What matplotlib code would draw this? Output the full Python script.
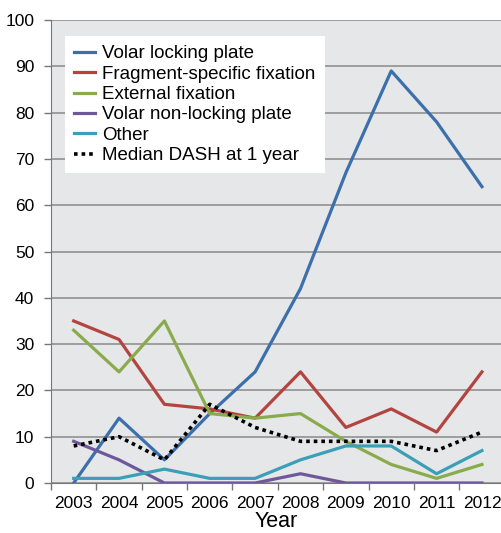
import numpy as np
import matplotlib.pyplot as plt

plt.rcParams['font.family'] = ['Liberation Sans', 'DejaVu Sans']

years = ['2003', '2004', '2005', '2006', '2007', '2008', '2009', '2010', '2011', '2012']
volar_locking = [0, 14, 5, 15, 24, 42, 67, 89, 78, 64]
fragment_specific = [35, 31, 17, 16, 14, 24, 12, 16, 11, 24]
external_fix = [33, 24, 35, 15, 14, 15, 9, 4, 1, 4]
volar_nonlocking = [9, 5, 0, 0, 0, 2, 0, 0, 0, 0]
other = [1, 1, 3, 1, 1, 5, 8, 8, 2, 7]
median_dash = [8, 10, 5, 17, 12, 9, 9, 9, 7, 11]

W, H = 501, 533
fig = plt.figure(figsize=(W/100, H/100), dpi=100)
ax = fig.add_axes([51/W, 50/H, 1 - 51/W, 463/H])
ax.set_facecolor('#e6e7e8')

x = np.arange(len(years))
lw = 2.3
ax.plot(x, volar_locking, color='#3c6fab', lw=lw, label='Volar locking plate')
ax.plot(x, fragment_specific, color='#b3443f', lw=lw, label='Fragment-specific fixation')
ax.plot(x, external_fix, color='#8aab4c', lw=lw, label='External fixation')
ax.plot(x, volar_nonlocking, color='#6f579b', lw=lw, label='Volar non-locking plate')
ax.plot(x, other, color='#3b9fb7', lw=lw, label='Other')
ax.plot(x, median_dash, color='black', lw=2.6, ls=(0, (1, 1.1)), label='Median DASH at 1 year')

ax.set_xlim(-0.5, 9.42)
ax.set_ylim(0, 100)
ax.set_yticks(range(0, 101, 10))
ax.set_xticks(x)
ax.set_xticklabels(years)
ax.set_xticks(np.arange(-0.5, 9.0, 1.0), minor=True)
ax.tick_params(axis='x', which='major', length=0, pad=9, labelsize=12.5)
ax.tick_params(axis='x', which='minor', length=5, color='#777777', width=1)
ax.tick_params(axis='y', length=5, color='#777777', width=1, pad=7, labelsize=12.5)
ax.grid(axis='y', color='#8a8a8a', lw=1.1)
ax.set_axisbelow(True)

for s in ['top', 'right']:
    ax.spines[s].set_visible(False)
ax.spines['left'].set_color('#777777')
ax.spines['bottom'].set_color('#777777')

# axis title kept inside the canvas
fig.text(276/W, 1/H, 'Year', fontsize=15.5, ha='center', va='bottom')

leg = ax.legend(loc='upper left', bbox_to_anchor=(65/W, 1 - 36/H), bbox_transform=fig.transFigure,
                fontsize=13.5, frameon=True, fancybox=False, framealpha=1, edgecolor='white',
                handlelength=1.1, handletextpad=0.4, labelspacing=0.17, borderpad=0.5,
                borderaxespad=0)
leg.get_frame().set_linewidth(0)

fig.savefig('out.png', dpi=100)
